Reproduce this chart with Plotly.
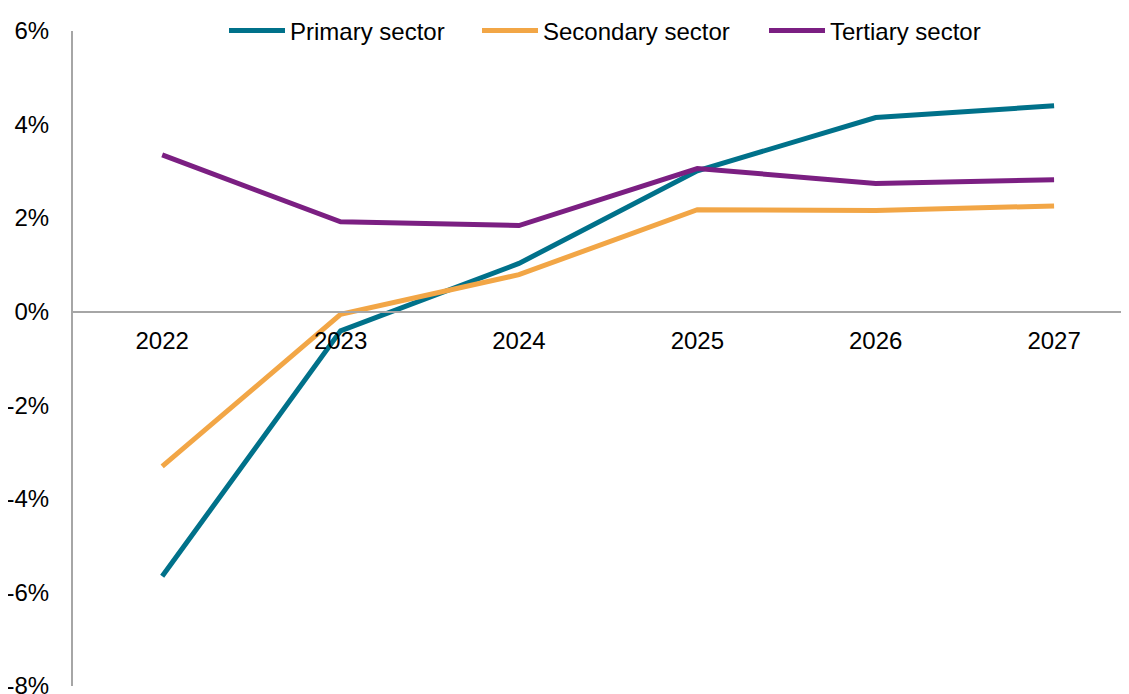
import plotly.graph_objects as go

years = ["2022", "2023", "2024", "2025", "2026", "2027"]
primary = [-5.66, -0.41, 1.03, 3.01, 4.15, 4.40]
secondary = [-3.31, -0.06, 0.79, 2.18, 2.16, 2.26]
tertiary = [3.35, 1.92, 1.84, 3.06, 2.74, 2.82]
y_ticks = [6, 4, 2, 0, -2, -4, -6, -8]
y_labels = ["6%", "4%", "2%", "0%", "-2%", "-4%", "-6%", "-8%"]

series = [
    ("Primary sector", primary, "#00718A", "legend"),
    ("Secondary sector", secondary, "#F2A646", "legend2"),
    ("Tertiary sector", tertiary, "#7B1F82", "legend3"),
]

FONT = "Liberation Sans, Arial, sans-serif"
# the page body adds an 8px margin, so everything is placed 8px up/left
PAGE_PAD = 8
PLOT_LEFT = 73
PLOT_RIGHT = 1129
PLOT_TOP = 31
PLOT_BOTTOM = 686
FIG_W = 1129
FIG_H = 704
PLOT_W = PLOT_RIGHT - PLOT_LEFT

fig = go.Figure()
for name, values, color, leg in series:
    fig.add_trace(
        go.Scatter(
            x=years,
            y=[v / 100 for v in values],
            name=name,
            mode="lines",
            line=dict(color=color, width=5),
            legend=leg,
        )
    )

# one legend box per series so each entry sits where the reference has it
legend_left = {"legend": 230, "legend2": 483, "legend3": 770}
legends = {}
for key, px in legend_left.items():
    legends[key] = dict(
        orientation="h",
        x=(px - PLOT_LEFT - 6) / PLOT_W,
        xanchor="left",
        y=1.0,
        yanchor="middle",
        font=dict(family=FONT, size=24, color="#000000"),
        itemwidth=56,
        bgcolor="rgba(0,0,0,0)",
    )

fig.update_layout(
    width=FIG_W,
    height=FIG_H,
    margin=dict(
        l=PLOT_LEFT - PAGE_PAD,
        r=FIG_W + PAGE_PAD - PLOT_RIGHT,
        t=PLOT_TOP - PAGE_PAD,
        b=FIG_H + PAGE_PAD - PLOT_BOTTOM,
        autoexpand=False,
    ),
    paper_bgcolor="white",
    plot_bgcolor="white",
    font=dict(family=FONT, size=24, color="#000000"),
    showlegend=True,
    xaxis=dict(
        type="category",
        range=[-0.5, 5.42],
        anchor="free",
        position=8 / 14,
        showline=True,
        linecolor="#A6A6A6",
        linewidth=2,
        showgrid=False,
        ticks="",
        ticklabelstandoff=7,
        automargin=False,
    ),
    yaxis=dict(
        range=[-0.08005, 0.06],
        tickvals=[v / 100 for v in y_ticks],
        ticktext=y_labels,
        showline=True,
        linecolor="#A6A6A6",
        linewidth=2,
        showgrid=False,
        zeroline=False,
        ticks="",
        ticklabelstandoff=17,
        automargin=False,
    ),
    **legends,
)

fig.write_html("out.html")
